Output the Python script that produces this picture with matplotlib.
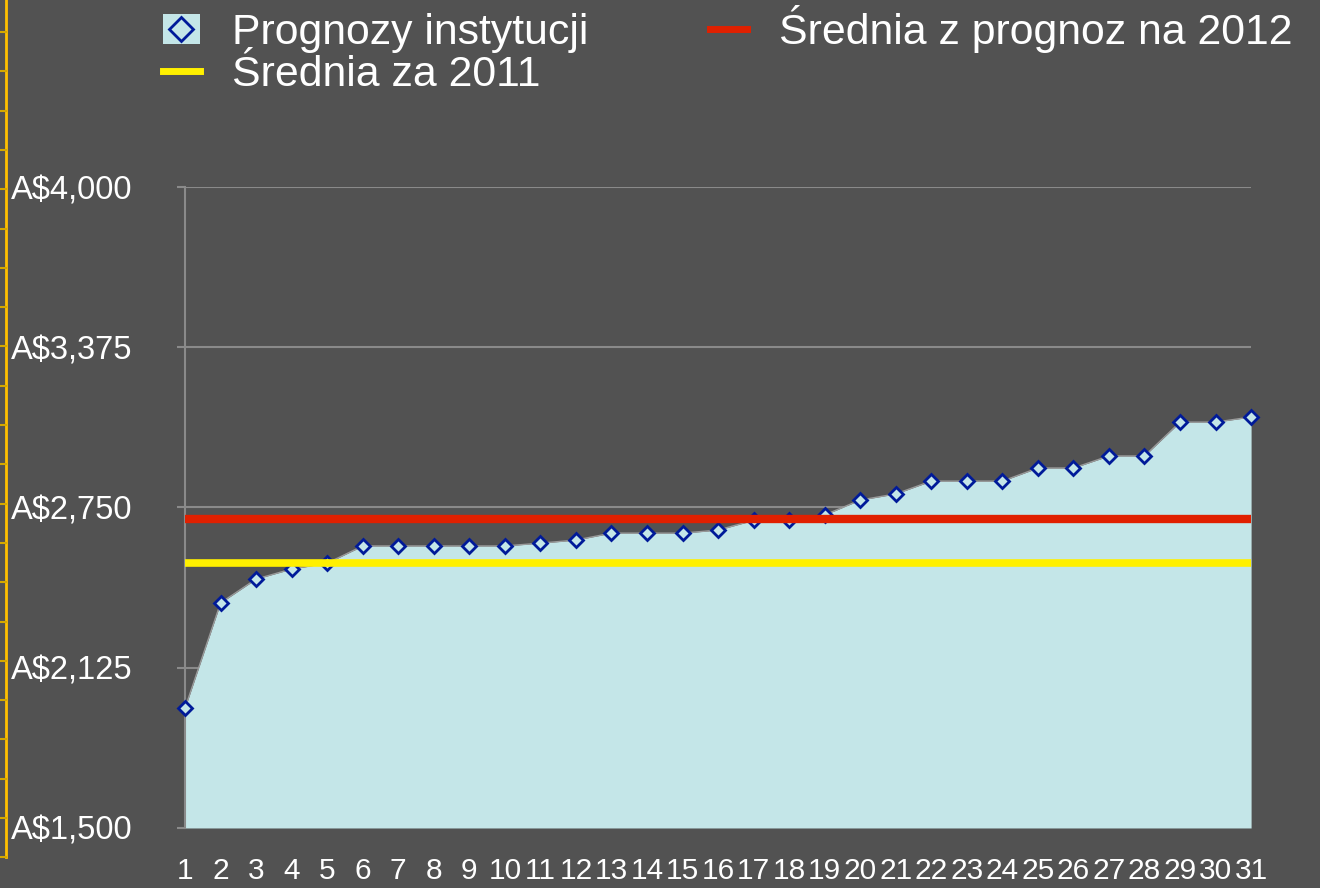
import matplotlib.pyplot as plt
from matplotlib.lines import Line2D
from matplotlib.patches import Patch

plt.rcParams['font.family'] = ['Liberation Sans', 'DejaVu Sans']

# dane
instytucje = list(range(1, 32))
prognozy = [1968, 2378, 2471, 2510, 2533, 2600, 2600, 2600, 2600, 2600,
            2611, 2623, 2650, 2650, 2650, 2662, 2700, 2700, 2721, 2779,
            2803, 2853, 2853, 2853, 2904, 2904, 2951, 2951, 3083, 3083,
            3103]
srednia_2011 = 2535
srednia_2012 = 2706
y_ticks = [1500, 2125, 2750, 3375, 4000]

bg = '#525252'
fill_col = '#C4E6E8'

fig = plt.figure(figsize=(13.2, 8.88), dpi=100, facecolor=bg)
ax = fig.add_axes([0.1402, 0.0676, 0.8076, 0.7218], facecolor=bg)

ax.fill_between(instytucje, prognozy, 1500, color=fill_col, lw=0, zorder=2)
ax.plot(instytucje, prognozy, color='#9a9a9a', lw=1, zorder=3)
ax.plot(instytucje, prognozy, ls='none', marker='D', ms=7, mew=2,
        mec='#001A99', mfc=fill_col, zorder=4, clip_on=False)
ax.hlines(srednia_2011, 1, 31, color='#FFF000', lw=5.5, zorder=5)
ax.hlines(srednia_2012, 1, 31, color='#E02000', lw=6, zorder=5)

ax.set_xlim(1, 31)
ax.set_ylim(1500, 4000)
ax.set_yticks(y_ticks)
ax.set_yticklabels(['A$' + format(v, ',') for v in y_ticks])
ax.set_xticks(instytucje)
ax.set_xticklabels([str(i) for i in instytucje])
ax.grid(axis='y', color='#8a8a8a', lw=1.5, zorder=1)
ax.tick_params(axis='y', colors='#8a8a8a', length=6, width=1.5, pad=32,
               labelcolor='white', labelsize=23.5)
ax.tick_params(axis='x', length=0, pad=21, labelcolor='white', labelsize=21.5)
for s in ['top', 'right', 'bottom']:
    ax.spines[s].set_visible(False)
ax.spines['left'].set_color('#8a8a8a')
ax.spines['left'].set_linewidth(1.5)

# legenda
h_prog = (Patch(facecolor=fill_col, edgecolor='none'),
          Line2D([], [], ls='none', marker='D', ms=12, mew=2,
                 mec='#001A99', mfc=fill_col))
h_2011 = Line2D([], [], color='#FFF000', lw=5)
h_2012 = Line2D([], [], color='#E02000', lw=5)
fig.legend([h_prog, h_2011, h_2012],
           ['Prognozy instytucji', 'Średnia za 2011', 'Średnia z prognoz na 2012'],
           loc='upper left', bbox_to_anchor=(163 / 1320, 0.994), ncol=2,
           frameon=False, fontsize=30.8, labelcolor='white',
           handlelength=0.86, handletextpad=0.75, columnspacing=2.85,
           labelspacing=0.03, borderpad=0, borderaxespad=0)

# żółta linia z podziałką przy lewej krawędzi
fig.add_artist(Line2D([6 / 1320, 6 / 1320], [1, 1 - 857 / 888],
                      color='#FFC000', lw=2, transform=fig.transFigure))
for k in range(22):
    y = 1 - (32 + k * 39.3) / 888
    if y < 1 - 860 / 888:
        break
    fig.add_artist(Line2D([0, 6 / 1320], [y, y], color='#D4A800', lw=1.5,
                          transform=fig.transFigure))

fig.savefig('out.png', dpi=100, facecolor=bg)
